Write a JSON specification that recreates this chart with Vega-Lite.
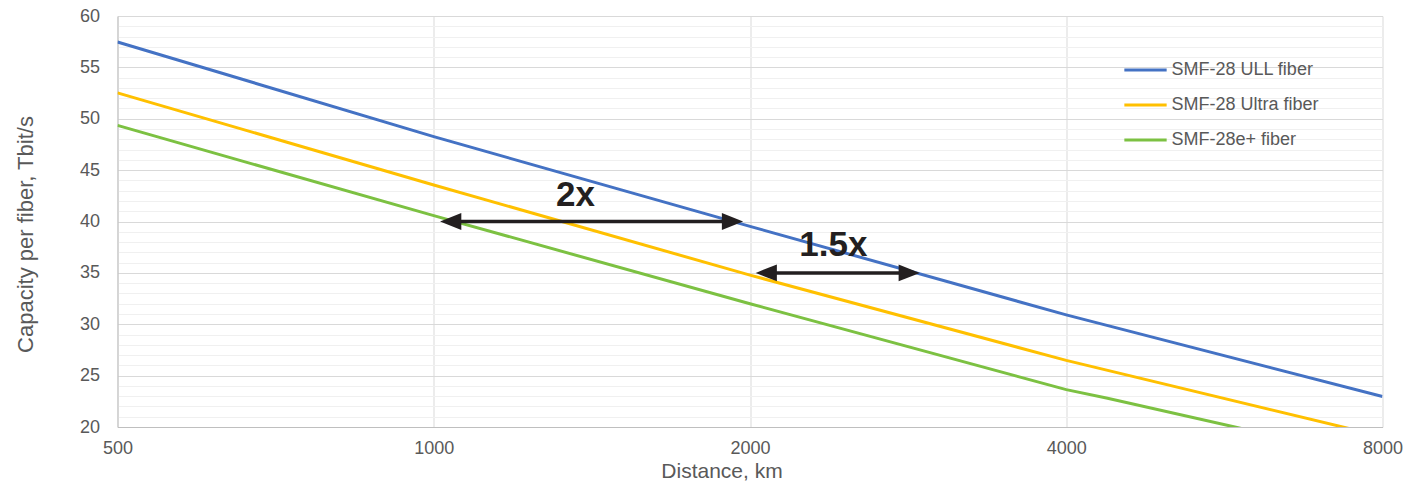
{
  "$schema": "https://vega.github.io/schema/vega-lite/v6.json",
  "width": 1265,
  "height": 411,
  "autosize": {"type": "none"},
  "padding": {"left": 117.5, "top": 16, "right": 36, "bottom": 57},
  "background": "white",
  "config": {
    "font": "Liberation Sans",
    "view": {"stroke": null},
    "axisX": {
      "grid": true, "gridColor": "#d9d9d9", "domainColor": "#bfbfbf", "ticks": false,
      "labelFontSize": 18, "labelColor": "#595959", "labelPadding": 12, "labelFlush": false,
      "titleFontSize": 21, "titleFontWeight": "normal", "titleColor": "#595959",
      "titleX": 604, "titleY": 50, "titleBaseline": "alphabetic", "titleAlign": "center"
    },
    "axisY": {
      "grid": true, "ticks": false, "domainColor": "#bfbfbf",
      "labelPadding": 18, "labelFontSize": 18, "labelColor": "#595959",
      "titleFontSize": 22, "titleFontWeight": "normal", "titleColor": "#595959",
      "titleX": -85, "titleY": 218, "titleBaseline": "alphabetic", "titleAlign": "center"
    }
  },
  "datasets": {
    "series": [
      {"fiber": "SMF-28 ULL fiber", "distance": 500, "capacity": 57.47},
      {"fiber": "SMF-28 ULL fiber", "distance": 1000, "capacity": 48.26},
      {"fiber": "SMF-28 ULL fiber", "distance": 2000, "capacity": 39.53},
      {"fiber": "SMF-28 ULL fiber", "distance": 4000, "capacity": 30.91},
      {"fiber": "SMF-28 ULL fiber", "distance": 8000, "capacity": 22.97},
      {"fiber": "SMF-28 Ultra fiber", "distance": 500, "capacity": 52.52},
      {"fiber": "SMF-28 Ultra fiber", "distance": 1000, "capacity": 43.55},
      {"fiber": "SMF-28 Ultra fiber", "distance": 2000, "capacity": 34.78},
      {"fiber": "SMF-28 Ultra fiber", "distance": 4000, "capacity": 26.48},
      {"fiber": "SMF-28 Ultra fiber", "distance": 8000, "capacity": 19.07},
      {"fiber": "SMF-28e+ fiber", "distance": 500, "capacity": 49.35},
      {"fiber": "SMF-28e+ fiber", "distance": 1000, "capacity": 40.57},
      {"fiber": "SMF-28e+ fiber", "distance": 2000, "capacity": 32.0},
      {"fiber": "SMF-28e+ fiber", "distance": 4000, "capacity": 23.64},
      {"fiber": "SMF-28e+ fiber", "distance": 4368, "capacity": 22.82},
      {"fiber": "SMF-28e+ fiber", "distance": 5788, "capacity": 20.0},
      {"fiber": "SMF-28e+ fiber", "distance": 6000, "capacity": 19.64}
    ],
    "arrows": [
      {"label": "2x", "from": 1014, "to": 1970, "cap": 40, "textDist": 1364, "textCap": 41.5},
      {"label": "1.5x", "from": 2025, "to": 2902, "cap": 35, "textDist": 2401, "textCap": 36.65}
    ]
  },
  "layer": [
    {
      "data": {"name": "series"},
      "mark": {"type": "line", "strokeWidth": 3, "clip": true},
      "encoding": {
        "x": {
          "field": "distance", "type": "quantitative",
          "scale": {"type": "log", "base": 2, "domain": [500, 8000], "nice": false},
          "axis": {"title": "Distance, km", "values": [500, 1000, 2000, 4000, 8000], "format": "d"}
        },
        "y": {
          "field": "capacity", "type": "quantitative",
          "scale": {"domain": [20, 60], "nice": false, "zero": false},
          "axis": {
            "title": "Capacity per fiber, Tbit/s",
            "values": [20,21,22,23,24,25,26,27,28,29,30,31,32,33,34,35,36,37,38,39,40,41,42,43,44,45,46,47,48,49,50,51,52,53,54,55,56,57,58,59,60],
            "labelExpr": "datum.value % 5 === 0 ? datum.label : ''",
            "gridColor": {"condition": {"test": "datum.value % 5 === 0", "value": "#d9d9d9"}, "value": "#f0f0f0"}
          }
        },
        "color": {
          "field": "fiber", "type": "nominal",
          "scale": {"domain": ["SMF-28 ULL fiber", "SMF-28 Ultra fiber", "SMF-28e+ fiber"], "range": ["#4472C4", "#FFC000", "#7CC142"]},
          "legend": {
            "title": null, "orient": "none", "legendX": 1005, "legendY": 45,
            "symbolType": "stroke", "symbolSize": 1790, "symbolStrokeWidth": 3,
            "labelFontSize": 18, "labelColor": "#595959", "labelOffset": 3,
            "rowPadding": 17, "clipHeight": 18, "padding": 0
          }
        }
      }
    },
    {
      "data": {"name": "arrows"},
      "mark": {"type": "rule", "strokeWidth": 3.5, "color": "#231f20", "xOffset": 10, "x2Offset": -10},
      "encoding": {
        "x": {"field": "from", "type": "quantitative",
          "axis": {"title": "Distance, km", "values": [500, 1000, 2000, 4000, 8000], "format": "d"}},
        "x2": {"field": "to"},
        "y": {"field": "cap", "type": "quantitative",
          "axis": {
            "title": "Capacity per fiber, Tbit/s",
            "values": [20,21,22,23,24,25,26,27,28,29,30,31,32,33,34,35,36,37,38,39,40,41,42,43,44,45,46,47,48,49,50,51,52,53,54,55,56,57,58,59,60],
            "labelExpr": "datum.value % 5 === 0 ? datum.label : ''",
            "gridColor": {"condition": {"test": "datum.value % 5 === 0", "value": "#d9d9d9"}, "value": "#f0f0f0"}
          }}
      }
    },
    {
      "data": {"name": "arrows"},
      "mark": {"type": "point", "shape": "M0,0L-1,-0.4L-1,0.4Z", "size": 1800, "filled": true, "opacity": 1, "color": "#231f20", "strokeWidth": 0},
      "encoding": {
        "x": {"field": "to", "type": "quantitative",
          "axis": {"title": "Distance, km", "values": [500, 1000, 2000, 4000, 8000], "format": "d"}},
        "y": {"field": "cap", "type": "quantitative",
          "axis": {
            "title": "Capacity per fiber, Tbit/s",
            "values": [20,21,22,23,24,25,26,27,28,29,30,31,32,33,34,35,36,37,38,39,40,41,42,43,44,45,46,47,48,49,50,51,52,53,54,55,56,57,58,59,60],
            "labelExpr": "datum.value % 5 === 0 ? datum.label : ''",
            "gridColor": {"condition": {"test": "datum.value % 5 === 0", "value": "#d9d9d9"}, "value": "#f0f0f0"}
          }}
      }
    },
    {
      "data": {"name": "arrows"},
      "mark": {"type": "point", "shape": "M0,0L1,-0.4L1,0.4Z", "size": 1800, "filled": true, "opacity": 1, "color": "#231f20", "strokeWidth": 0},
      "encoding": {
        "x": {"field": "from", "type": "quantitative",
          "axis": {"title": "Distance, km", "values": [500, 1000, 2000, 4000, 8000], "format": "d"}},
        "y": {"field": "cap", "type": "quantitative",
          "axis": {
            "title": "Capacity per fiber, Tbit/s",
            "values": [20,21,22,23,24,25,26,27,28,29,30,31,32,33,34,35,36,37,38,39,40,41,42,43,44,45,46,47,48,49,50,51,52,53,54,55,56,57,58,59,60],
            "labelExpr": "datum.value % 5 === 0 ? datum.label : ''",
            "gridColor": {"condition": {"test": "datum.value % 5 === 0", "value": "#d9d9d9"}, "value": "#f0f0f0"}
          }}
      }
    },
    {
      "data": {"name": "arrows"},
      "mark": {"type": "text", "fontSize": 35, "fontWeight": "bold", "color": "#231f20", "baseline": "alphabetic", "align": "center"},
      "encoding": {
        "x": {"field": "textDist", "type": "quantitative",
          "axis": {"title": "Distance, km", "values": [500, 1000, 2000, 4000, 8000], "format": "d"}},
        "y": {"field": "textCap", "type": "quantitative",
          "axis": {
            "title": "Capacity per fiber, Tbit/s",
            "values": [20,21,22,23,24,25,26,27,28,29,30,31,32,33,34,35,36,37,38,39,40,41,42,43,44,45,46,47,48,49,50,51,52,53,54,55,56,57,58,59,60],
            "labelExpr": "datum.value % 5 === 0 ? datum.label : ''",
            "gridColor": {"condition": {"test": "datum.value % 5 === 0", "value": "#d9d9d9"}, "value": "#f0f0f0"}
          }},
        "text": {"field": "label"}
      }
    }
  ]
}
